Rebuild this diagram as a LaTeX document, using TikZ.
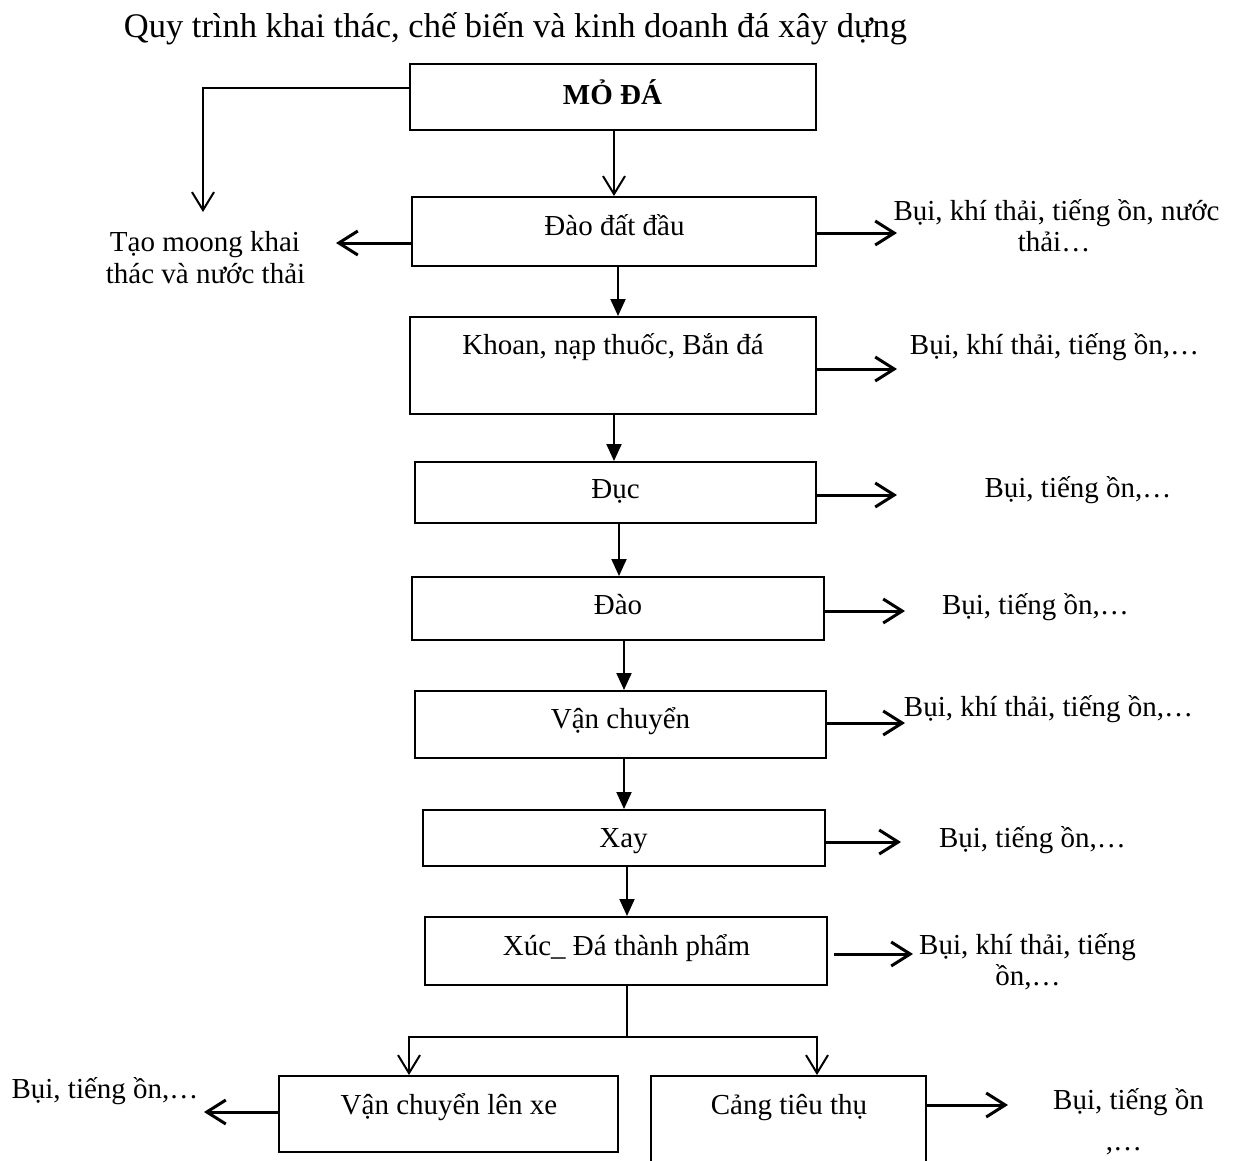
\documentclass[tikz,border=0pt]{standalone}
\usepackage{fontspec}
\setmainfont{Liberation Serif}
\usetikzlibrary{arrows.meta}

\begin{document}
\begin{tikzpicture}[x=1pt,y=-1pt,
  box/.style={draw, line width=2pt, inner sep=0pt},
  txt/.style={inner sep=0pt, anchor=base, font=\fontsize{29}{32}\selectfont},
  ttl/.style={inner sep=0pt, anchor=base, font=\fontsize{34.5}{40}\selectfont},
  down/.style={line width=2pt, -{Triangle[length=17pt,width=15pt]}},
  vopen/.style={line width=2pt, -{Straight Barb[length=18pt,width=22pt]}},
  side/.style={line width=3pt, -{Straight Barb[length=19pt,width=24pt]}}]

\useasboundingbox (0,0) rectangle (1237,1160);

% title
\node[ttl] (title) at (515.5,37) {Quy trình khai thác, chế biến và kinh doanh đá xây dựng};

% process boxes
\node[box, minimum width=406pt, minimum height=66pt] (mo)    at (613,97)     {};
\node[box, minimum width=404pt, minimum height=69pt] (dat)   at (614,231.5)  {};
\node[box, minimum width=406pt, minimum height=97pt] (khoan) at (613,365.5)  {};
\node[box, minimum width=401pt, minimum height=61pt] (duc)   at (615.5,492.5){};
\node[box, minimum width=412pt, minimum height=63pt] (dao)   at (618,608.5)  {};
\node[box, minimum width=411pt, minimum height=67pt] (vc)    at (620.5,724.5){};
\node[box, minimum width=402pt, minimum height=56pt] (xay)   at (624,838)    {};
\node[box, minimum width=402pt, minimum height=68pt] (xuc)   at (626,951)    {};
\node[box, minimum width=339pt, minimum height=76pt] (vclx)  at (448.5,1114) {};
\node[box, minimum width=275pt, minimum height=98pt] (cang)  at (788.5,1125) {};

% box texts
\node[txt, font=\fontsize{29}{32}\selectfont\bfseries] (tmo) at (612.5,104) {MỎ ĐÁ};
\node[txt] (tdat)   at (614.5,235) {Đào đất đầu};
\node[txt] (tkhoan) at (613,354)   {Khoan, nạp thuốc, Bắn đá};
\node[txt] (tduc)   at (615.5,498) {Đục};
\node[txt] (tdao)   at (618,614)   {Đào};
\node[txt] (tvc)    at (620.5,728) {Vận chuyển};
\node[txt] (txay)   at (623.5,847) {Xay};
\node[txt] (txuc)   at (626.5,955) {Xúc\_ Đá thành phẩm};
\node[txt] (tvclx)  at (449,1114)  {Vận chuyển lên xe};
\node[txt] (tcang)  at (789,1114)  {Cảng tiêu thụ};

% side labels
\node[txt] (moongA) at (205,251)    {Tạo moong khai};
\node[txt] (moongB) at (205.5,283)  {thác và nước thải};
\node[txt] (sdatA)  at (1056.5,220) {Bụi, khí thải, tiếng ồn, nước};
\node[txt] (sdatB)  at (1054,251)   {thải…};
\node[txt] (skhoan) at (1054.5,354) {Bụi, khí thải, tiếng ồn,…};
\node[txt] (sduc)   at (1078,497)   {Bụi, tiếng ồn,…};
\node[txt] (sdao)   at (1035.5,614) {Bụi, tiếng ồn,…};
\node[txt] (svc)    at (1048.5,716) {Bụi, khí thải, tiếng ồn,…};
\node[txt] (sxay)   at (1032.5,847) {Bụi, tiếng ồn,…};
\node[txt] (sxucA)  at (1027.5,954) {Bụi, khí thải, tiếng};
\node[txt] (sxucB)  at (1028,985)   {ồn,…};
\node[txt] (svclx)  at (105,1098)   {Bụi, tiếng ồn,…};
\node[txt] (scangA) at (1128.5,1109){Bụi, tiếng ồn};
\node[txt] (scangB) at (1124,1150)  {,…};

% free ends of the connectors
\coordinate (moL)    at (203,212);
\coordinate (datL)   at (336,243);
\coordinate (datR)   at (897,233);
\coordinate (khoanR) at (897,369);
\coordinate (ducR)   at (897,495);
\coordinate (daoR)   at (905,611);
\coordinate (vcR)    at (905,723);
\coordinate (xayR)   at (901,842);
\coordinate (xucR)   at (913,954);
\coordinate (vclxL)  at (204,1112);
\coordinate (cangR)  at (1008,1105);
\coordinate (split)  at (627,1037);

% main flow
\draw[vopen] ([yshift=9pt]mo.west) -| (moL);
\draw[vopen] ([xshift=1pt]mo.south) -- (dat.north);
\draw[down] ([xshift=4pt]dat.south)   -- ([xshift=5pt]khoan.north);
\draw[down] ([xshift=1pt]khoan.south) -- ([xshift=-1.5pt]duc.north);
\draw[down] ([xshift=3.5pt]duc.south) -- ([xshift=1pt]dao.north);
\draw[down] ([xshift=6pt]dao.south)   -- ([xshift=3.5pt]vc.north);
\draw[down] ([xshift=3.5pt]vc.south)  -- (xay.north);
\draw[down] ([xshift=3pt]xay.south)   -- ([xshift=1pt]xuc.north);
\draw[line width=2pt] ([xshift=1pt]xuc.south) -- (split);
\draw[vopen] (split) -| ([xshift=-39.5pt]vclx.north);
\draw[vopen] (split) -| ([xshift=28.5pt]cang.north);

% emissions
\draw[side] ([yshift=-11.5pt]dat.west) -- (datL);
\draw[side] ([yshift=-1.5pt]dat.east)  -- (datR);
\draw[side] ([yshift=-3.5pt]khoan.east) -- (khoanR);
\draw[side] ([yshift=-2.5pt]duc.east)  -- (ducR);
\draw[side] ([yshift=-2.5pt]dao.east)  -- (daoR);
\draw[side] ([yshift=1.5pt]vc.east)    -- (vcR);
\draw[side] ([yshift=-4pt]xay.east)    -- (xayR);
\draw[side] ([xshift=6pt,yshift=-3pt]xuc.east) -- (xucR);
\draw[side] ([yshift=2pt]vclx.west)    -- (vclxL);
\draw[side] ([yshift=20pt]cang.east)   -- (cangR);
\end{tikzpicture}
\end{document}
